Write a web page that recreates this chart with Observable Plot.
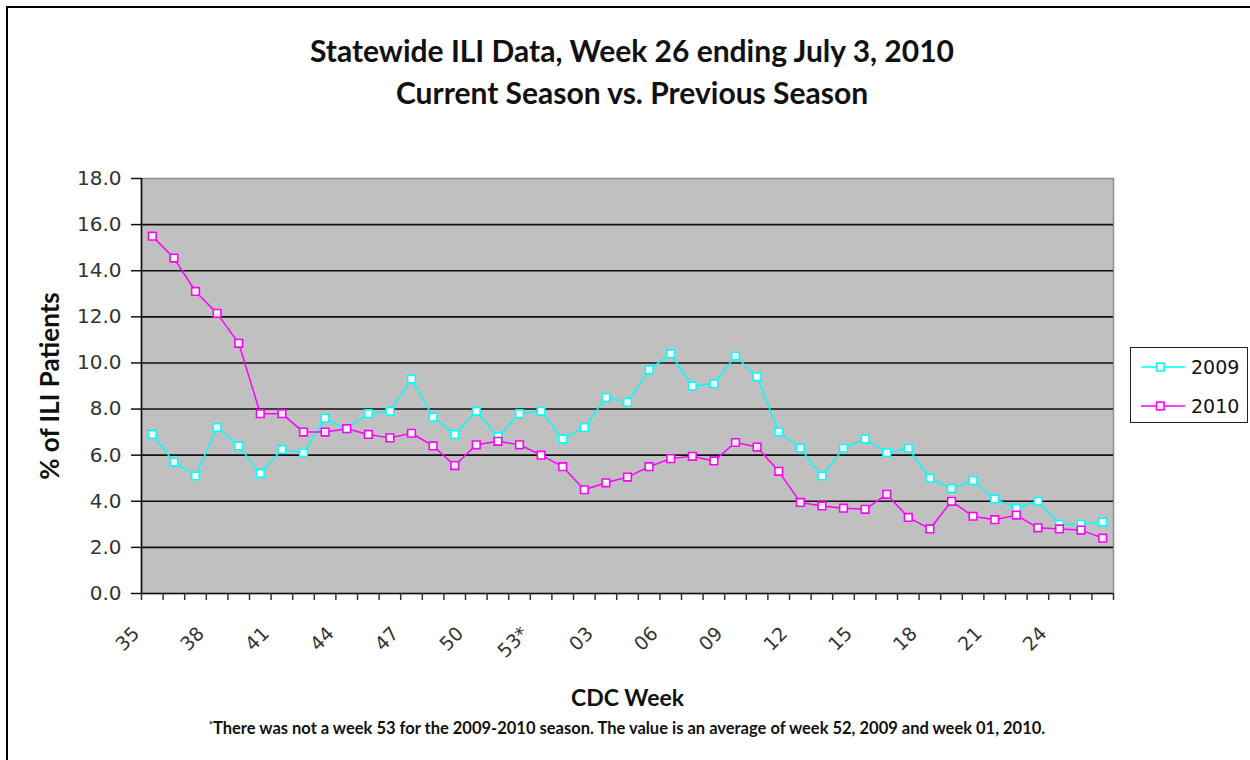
<!DOCTYPE html>
<html>
<head>
<meta charset="utf-8">
<script src="https://cdn.jsdelivr.net/npm/d3@7"></script>
<script src="https://cdn.jsdelivr.net/npm/@observablehq/plot@0.6"></script>
<style>
  html, body { margin: 0; padding: 0; background: #fff; }
  body { width: 1250px; height: 760px; overflow: hidden; position: relative; font-family: Lato, sans-serif; }
  #outer { position: absolute; left: 6px; top: 6px; width: 1300px; height: 800px; border-left: 2px solid #000; border-top: 2px solid #000; }
  .title { position: absolute; left: 0; width: 1264px; text-align: center; font-weight: bold; color: #111; font-size: 30px; line-height: 36px; white-space: nowrap; }
  #chart { position: absolute; left: 0; top: 140px; }
  #foot { position: absolute; left: 0; width: 1254px; top: 713px; text-align: center; font-weight: bold; font-size: 16.5px; line-height: 22px; color: #111; white-space: nowrap; }
  #foot sup { font-size: 10px; vertical-align: 6px; }
  #legend { position: absolute; left: 1130px; top: 347px; width: 118px; height: 76px; box-sizing: border-box; border: 1.5px solid #222; background: #fff; }
</style>
</head>
<body>
<div id="outer"></div>
<div class="title" style="top:32px">Statewide ILI Data, Week 26 ending July 3, 2010</div>
<div class="title" style="top:74px">Current Season vs. Previous Season</div>
<div id="chart"></div>
<div id="foot"><sup>*</sup>There was not a week 53 for the 2009-2010 season. The value is an average of week 52, 2009 and week 01, 2010.</div>
<div id="legend"></div>
<script>
// ---- data ----
const weeks = ["35","36","37","38","39","40","41","42","43","44","45","46","47","48","49","50","51","52","53*",
  "01","02","03","04","05","06","07","08","09","10","11","12","13","14","15","16","17","18","19","20","21","22","23","24","25","26"];
const ili2009 = [6.9,5.7,5.1,7.2,6.4,5.2,6.25,6.1,7.6,7.15,7.8,7.9,9.3,7.65,6.9,7.9,6.8,7.8,7.9,
  6.7,7.2,8.5,8.3,9.7,10.4,9.0,9.1,10.3,9.4,7.0,6.3,5.1,6.3,6.7,6.1,6.3,5.0,4.55,4.9,4.1,3.7,4.0,3.0,3.0,3.1];
const ili2010 = [15.5,14.55,13.1,12.15,10.85,7.8,7.8,7.0,7.0,7.15,6.9,6.75,6.95,6.4,5.55,6.45,6.6,6.45,6.0,
  5.5,4.5,4.8,5.05,5.5,5.85,5.95,5.75,6.55,6.35,5.3,3.95,3.8,3.7,3.65,4.3,3.3,2.8,4.0,3.35,3.2,3.4,2.85,2.8,2.75,2.4];
const seriesNames = ["2009", "2010"];
const seriesColors = ["#00ffff", "#ff00ff"];
const yTicks = [0, 2, 4, 6, 8, 10, 12, 14, 16, 18];
const labelEvery = 3;

const rows = seriesNames.flatMap((s, k) =>
  weeks.map((w, i) => ({ i, week: w, season: s, value: (k === 0 ? ili2009 : ili2010)[i] })));

const boundaries = d3.range(weeks.length + 1).map(i => i - 0.5);
const labelIdx = d3.range(0, weeks.length, labelEvery);

const chart = Plot.plot({
  width: 1250,
  height: 580,
  marginLeft: 141,
  marginRight: 137,
  marginTop: 38,
  marginBottom: 127,
  style: { background: "transparent", fontFamily: "DejaVu Sans" },
  x: { type: "linear", domain: [-0.5, weeks.length - 0.5], axis: null },
  y: { domain: [0, 18], axis: null },
  color: { domain: seriesNames, range: seriesColors },
  marks: [
    Plot.frame({ fill: "#c0c0c0", stroke: "#8c8c8c", strokeWidth: 1.5 }),
    Plot.ruleY(yTicks.filter(d => d > 0 && d < 18), { stroke: "#111", strokeWidth: 1.6 }),
    Plot.ruleY([0], { stroke: "#111", strokeWidth: 1.6 }),
    Plot.ruleX([-0.5], { stroke: "#111", strokeWidth: 1.6 }),
    Plot.axisY(yTicks, { anchor: "left", tickSize: 10, tickPadding: 10, stroke: "#111", strokeWidth: 1.5,
      tickFormat: d => d.toFixed(1), fontSize: 20, fill: "#333", label: null }),
    Plot.axisX(boundaries, { anchor: "bottom", tickSize: 7, tickFormat: () => "", stroke: "#333", strokeWidth: 1.5, label: null }),
    Plot.axisX(labelIdx, { anchor: "bottom", tickSize: 0, tickPadding: 37, tickRotate: -45,
      textAnchor: "end", lineAnchor: "middle", dx: -16,
      tickFormat: i => weeks[i], fontSize: 19, fill: "#333", label: null }),
    ...seriesNames.flatMap(s => [
      Plot.line(rows.filter(d => d.season === s), { x: "i", y: "value", stroke: "season", strokeWidth: 1.5 }),
      Plot.dot(rows.filter(d => d.season === s), { x: "i", y: "value", symbol: "square", r: 4.3,
        fill: "white", stroke: "season", strokeWidth: 1.6 })
    ]),
    Plot.text(["% of ILI Patients"], { frameAnchor: "left", textAnchor: "middle", dx: -91, rotate: -90,
      fontFamily: "Lato", fontWeight: "bold", fontSize: 26, fill: "#111" }),
    Plot.text(["CDC Week"], { frameAnchor: "bottom", dy: 112,
      fontFamily: "Lato", fontWeight: "bold", fontSize: 23, fill: "#111" })
  ]
});
document.getElementById("chart").appendChild(chart);

// ---- legend ----
const lg = d3.select("#legend").append("svg").attr("width", 115).attr("height", 73);
seriesNames.forEach((s, k) => {
  const y = 19 + k * 39;
  lg.append("line").attr("x1", 10).attr("x2", 54).attr("y1", y).attr("y2", y)
    .attr("stroke", seriesColors[k]).attr("stroke-width", 1.5);
  lg.append("rect").attr("x", 25.5).attr("y", y - 3.8).attr("width", 7.6).attr("height", 7.6)
    .attr("fill", "white").attr("stroke", seriesColors[k]).attr("stroke-width", 1.6);
  lg.append("text").attr("x", 60).attr("y", y + 7).text(s)
    .attr("font-family", "DejaVu Sans").attr("font-size", 19).attr("fill", "#111");
});
</script>
</body>
</html>
